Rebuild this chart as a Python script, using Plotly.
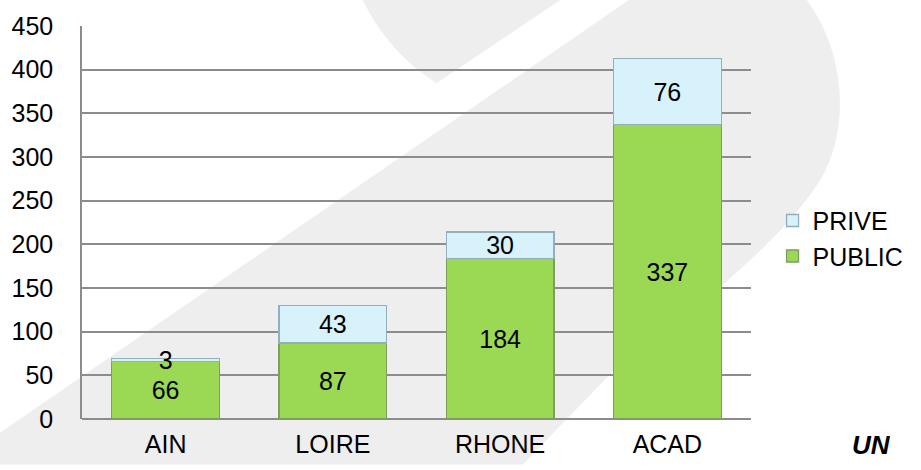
import plotly.graph_objects as go

categories = ["AIN", "LOIRE", "RHONE", "ACAD"]
public_values = [66, 87, 184, 337]
prive_values = [3, 43, 30, 76]
y_ticks = [0, 50, 100, 150, 200, 250, 300, 350, 400, 450]

FONT = "Arial, 'Liberation Sans', sans-serif"
W_FIG, H_FIG = 921, 470
L, R, T, B = 80, 763, 23, 428
PW, PH = R - L, B - T


def px(x):
    return (x - L) / PW


def py(y):
    return (B - y) / PH


def path(cmds):
    out = []
    for c in cmds:
        if isinstance(c, str):
            out.append(c)
        else:
            out.append(f"{px(c[0]):.4f},{py(c[1]):.4f}")
    return " ".join(out)


fig = go.Figure()

fig.add_trace(go.Bar(
    name="PUBLIC", x=categories, y=public_values,
    text=[str(v) for v in public_values],
    textposition="inside", insidetextanchor="middle", textangle=0,
    constraintext="none",
    textfont=dict(family=FONT, size=25, color="black"),
    marker=dict(color="#9BD955", line=dict(color="#7E9C63", width=1.3)),
    legendrank=2,
))
fig.add_trace(go.Bar(
    name="PRIVE", x=categories, y=prive_values,
    text=[str(v) for v in prive_values],
    textposition="inside", insidetextanchor="middle", textangle=0,
    constraintext="none",
    textfont=dict(family=FONT, size=25, color="black"),
    marker=dict(color="#D8F2FC", line=dict(color="#93AEBD", width=1.3)),
    legendrank=1,
))

shapes = [
    dict(type="path", xref="paper", yref="paper", layer="below",
         fillcolor="#EEEEEE", line=dict(width=0),
         path=path(["M", (-5, 443), "L", (640, -5), "L", (819, -5), "C",
                    (860, 50), (865, 130), (833, 183), "C", (790, 250),
                    (700, 320), (623, 378), "L", (530, 475), "L", (-5, 475), "Z"])),
    dict(type="path", xref="paper", yref="paper", layer="below",
         fillcolor="#EEEEEE", line=dict(width=0),
         path=path(["M", (366, -5), "Q", (392, 50), (442, 82), "L", (570, -5), "Z"])),
]

fig.update_layout(
    width=W_FIG, height=H_FIG,
    margin=dict(l=L, r=W_FIG - R, t=T, b=H_FIG - B, pad=0),
    paper_bgcolor="white", plot_bgcolor="rgba(0,0,0,0)",
    barmode="stack", bargap=0.356,
    font=dict(family=FONT, size=25, color="black"),
    shapes=shapes,
    showlegend=True,
    legend=dict(
        x=px(785), y=py(200), xanchor="left", yanchor="top",
        traceorder="normal",
        font=dict(family=FONT, size=25, color="black"),
        bgcolor="rgba(0,0,0,0)", borderwidth=0,
    ),
    annotations=[dict(
        text="<b><i>UN</i></b>", xref="paper", yref="paper",
        x=px(864), y=py(455), xanchor="left", yanchor="middle",
        showarrow=False, font=dict(family=FONT, size=26, color="black"),
    )],
)

fig.update_xaxes(
    showgrid=False, showline=False, zeroline=False,
    tickfont=dict(family=FONT, size=25, color="black"),
    ticklabelstandoff=8,
)
fig.update_yaxes(
    range=[0, 450], tickvals=y_ticks, ticktext=[str(v) for v in y_ticks],
    showgrid=True, gridcolor="#8C8C8C", gridwidth=1.5,
    showline=True, linecolor="#8C8C8C", linewidth=1.5,
    zeroline=True, zerolinecolor="#8C8C8C", zerolinewidth=1.5,
    tickfont=dict(family=FONT, size=25, color="black"),
    ticklabelstandoff=22,
)

fig.write_html(
    "out.html",
    config={"displayModeBar": False},
    post_script="document.body.style.margin='0';document.body.style.overflow='hidden';",
)
